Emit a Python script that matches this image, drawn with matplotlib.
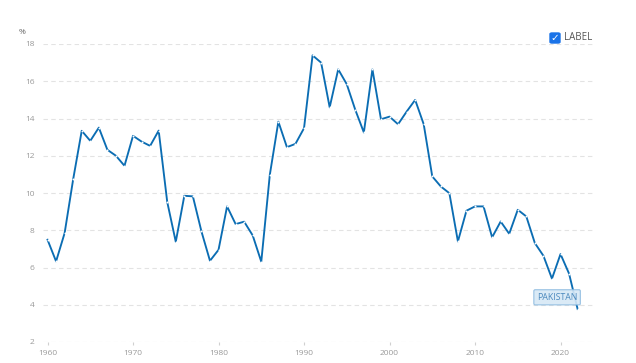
import matplotlib
matplotlib.use('Agg')
import matplotlib.pyplot as plt
from matplotlib.patches import FancyBboxPatch

plt.rcParams['font.family'] = ['Open Sans', 'DejaVu Sans']

# Donnees (Pakistan, %)
annees = list(range(1960, 2023))
valeurs = [
    7.49, 6.33, 7.85, 10.74, 13.34, 12.80, 13.51, 12.32, 12.00, 11.46,
    13.07, 12.76, 12.53, 13.35, 9.52, 7.38, 9.85, 9.82, 7.94, 6.36,
    6.95, 9.28, 8.33, 8.46, 7.72, 6.31, 10.98, 13.83, 12.46, 12.64,
    13.48, 17.39, 17.00, 14.60, 16.64, 15.84, 14.46, 13.25, 16.64, 13.96,
    14.10, 13.69, 14.37, 15.00, 13.69, 10.89, 10.35, 9.99, 7.40, 9.05,
    9.28, 9.28, 7.62, 8.47, 7.81, 9.10, 8.74, 7.31, 6.63, 5.40,
    6.72, 5.67, 3.77,
]
ticks_x = [1960, 1970, 1980, 1990, 2000, 2010, 2020]
ticks_y = [2, 4, 6, 8, 10, 12, 14, 16, 18]
nom_serie = 'PAKISTAN'
texte_legende = 'LABEL'

bleu = '#0b6db3'
gris = '#9a9a9a'

fig = plt.figure(figsize=(6.36, 3.63), dpi=100)
ax = fig.add_axes([43 / 636, 21 / 363, 550 / 636, 298 / 363])

ax.plot(annees, valeurs, color=bleu, lw=1.35, marker='o', ms=1.4,
        mfc='white', mec='white', mew=0, zorder=3)

ax.set_xlim(1959.47, 2023.8)
ax.set_ylim(2, 18)
ax.set_xticks(ticks_x)
ax.set_yticks(ticks_y)
ax.grid(axis='y', color='#e3e3e3', ls=(0, (4, 3)), lw=0.8)
for s in ax.spines.values():
    s.set_visible(False)
ax.tick_params(axis='y', length=0, labelsize=6, labelcolor=gris, pad=6)
ax.tick_params(axis='x', length=2.5, color='#d0d0d0', labelsize=6,
               labelcolor=gris, pad=3)

# unite en haut a gauche
fig.text(22 / 636, 1 - 33 / 363, '%', fontsize=6, color='#666666',
         ha='center', va='center')

# legende avec case cochee
case = FancyBboxPatch((550 / 636, 1 - 43 / 363), 10 / 636, 10 / 363,
                      boxstyle='round,pad=0,rounding_size=0.003',
                      transform=fig.transFigure, fc='#1a73e8', ec='#1a73e8')
fig.patches.append(case)
fig.text(555 / 636, 1 - 38 / 363, '\u2713', fontsize=7.5, color='white',
         ha='center', va='center', family='DejaVu Sans', fontweight='bold')
fig.text(564 / 636, 1 - 38 / 363, texte_legende, fontsize=7,
         color='#555555', ha='left', va='center')

# etiquette de la serie
ax.annotate(nom_serie, xy=(2019.6, 4.4), fontsize=6.3, color='#4a88bd',
            ha='center', va='center', zorder=5,
            bbox=dict(boxstyle='round,pad=0.35,rounding_size=0.15',
                      fc='#d6e8f6', ec='#8dbbe0', lw=0.8, alpha=0.9))

fig.savefig('out.png', dpi=100)
